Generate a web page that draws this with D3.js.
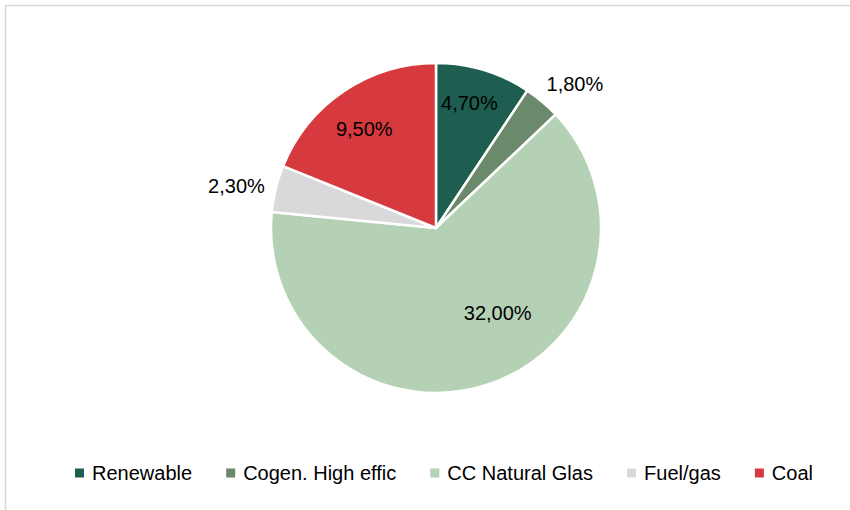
<!DOCTYPE html>
<html>
<head>
<meta charset="utf-8">
<script src="https://cdn.jsdelivr.net/npm/d3@7"></script>
<style>
  body { margin: 0; background: #fff; }
  text { font-family: "Liberation Sans", Arial, sans-serif; fill: #000; }
</style>
</head>
<body>
<div id="chart"></div>
<script>
// data
const categories = ['Renewable', 'Cogen. High effic', 'CC Natural Glas', 'Fuel/gas', 'Coal'];
const values = [4.7, 1.8, 32.0, 2.3, 9.5];
const labels = ['4,70%', '1,80%', '32,00%', '2,30%', '9,50%'];
const colors = ['#1e5e50', '#6b8a6b', '#b4d1b6', '#d9d9db', '#d63a3f'];

// label placement (polar: radius, angle in degrees from 12 o'clock)
const labelLayout = [[129, 15], [200, 44], [105, 144], [204, 282], [122, 324]];

const width = 850;
const height = 510;
const cx = 436;
const cy = 228;
const radius = 165;

const svg = d3.select('#chart')
  .append('svg')
  .attr('width', width)
  .attr('height', height);

// chart frame
svg.append('rect')
  .attr('x', 5.5)
  .attr('y', 5.5)
  .attr('width', width)
  .attr('height', height)
  .attr('fill', 'none')
  .attr('stroke', '#d9d9d9')
  .attr('stroke-width', 1.5);

const pie = d3.pie().sort(null).value(d => d);
const arc = d3.arc().innerRadius(0).outerRadius(radius);

const g = svg.append('g').attr('transform', `translate(${cx},${cy})`);

g.selectAll('path')
  .data(pie(values))
  .join('path')
  .attr('d', arc)
  .attr('fill', (d, i) => colors[i])
  .attr('stroke', '#fff')
  .attr('stroke-width', 2.5)
  .attr('stroke-linejoin', 'round');

g.selectAll('text.lbl')
  .data(labels)
  .join('text')
  .attr('class', 'lbl')
  .attr('x', (d, i) => labelLayout[i][0] * Math.sin(labelLayout[i][1] * Math.PI / 180))
  .attr('y', (d, i) => -labelLayout[i][0] * Math.cos(labelLayout[i][1] * Math.PI / 180))
  .attr('text-anchor', 'middle')
  .attr('dominant-baseline', 'central')
  .style('font-size', '20px')
  .text(d => d);

// legend, spread from x=75 to x=813 like the reference
const legend = svg.append('g');
const items = legend.selectAll('g')
  .data(categories)
  .join('g');

items.append('rect')
  .attr('width', 9)
  .attr('height', 9)
  .attr('y', -4.5)
  .attr('fill', (d, i) => colors[i]);

items.append('text')
  .attr('x', 17)
  .attr('dominant-baseline', 'central')
  .style('font-size', '20px')
  .text(d => d);

const widths = [];
items.each(function () { widths.push(this.getBBox().width); });
const span = 738;
const gap = (span - d3.sum(widths)) / (widths.length - 1);
let offset = 0;
items.each(function (d, i) {
  d3.select(this).attr('transform', `translate(${offset},0)`);
  offset += widths[i] + gap;
});
legend.attr('transform', 'translate(75,473)');
</script>
</body>
</html>
